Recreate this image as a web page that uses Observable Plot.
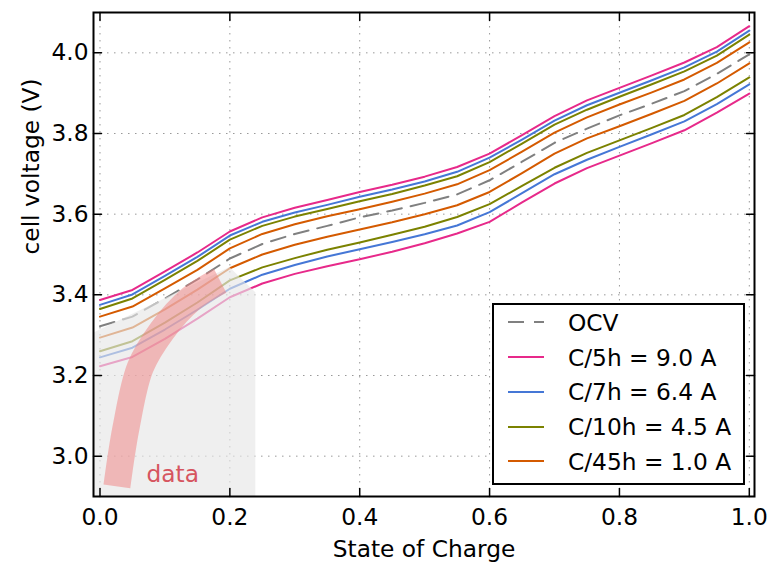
<!DOCTYPE html>
<html><head><meta charset="utf-8">
<script src="https://cdn.jsdelivr.net/npm/d3@7"></script>
<script src="https://cdn.jsdelivr.net/npm/@observablehq/plot@0.6"></script>
<style>
body{margin:0;background:#fff;font-family:"DejaVu Sans",sans-serif;}
#wrap{position:relative;width:771px;height:566px;}
#legend{position:absolute;left:492px;top:303px;width:253px;height:182px;box-sizing:border-box;border:2px solid #000;background:#fff;font-size:23.3px;color:#000;}
.row{position:absolute;left:0;height:34.75px;display:flex;align-items:center;white-space:nowrap;}
.row svg{margin-left:14px;margin-right:24px;}
</style></head>
<body><div id="wrap"><div id="chart"></div><div id="legend"></div></div>
<script>
const soc = [0,0.05,0.1,0.15,0.2,0.25,0.3,0.35,0.4,0.45,0.5,0.55,0.6,0.65,0.7,0.75,0.8,0.85,0.9,0.95,1.0];
const ocv   = [3.322,3.346,3.391,3.438,3.490,3.526,3.551,3.571,3.592,3.609,3.628,3.649,3.684,3.730,3.777,3.812,3.845,3.874,3.905,3.948,3.996];
const c5Up  = [3.387,3.412,3.458,3.505,3.557,3.592,3.616,3.635,3.655,3.673,3.693,3.717,3.750,3.796,3.843,3.882,3.913,3.944,3.976,4.014,4.066];
const c7Up  = [3.375,3.401,3.447,3.494,3.547,3.581,3.604,3.623,3.643,3.661,3.681,3.705,3.740,3.785,3.832,3.870,3.901,3.932,3.964,4.003,4.055];
const c10Up = [3.365,3.391,3.437,3.484,3.537,3.571,3.594,3.613,3.632,3.650,3.671,3.694,3.729,3.775,3.822,3.859,3.891,3.922,3.954,3.993,4.045];
const c45Up = [3.346,3.371,3.416,3.462,3.515,3.551,3.575,3.595,3.612,3.631,3.651,3.674,3.709,3.755,3.802,3.840,3.872,3.902,3.934,3.975,4.026];
const c45Dn = [3.294,3.319,3.364,3.413,3.466,3.500,3.524,3.544,3.562,3.580,3.600,3.622,3.655,3.702,3.750,3.788,3.818,3.849,3.881,3.924,3.974];
const c10Dn = [3.260,3.285,3.331,3.381,3.436,3.468,3.491,3.512,3.530,3.549,3.569,3.593,3.625,3.670,3.715,3.752,3.783,3.814,3.846,3.890,3.939];
const c7Dn  = [3.245,3.269,3.314,3.363,3.415,3.450,3.474,3.495,3.513,3.531,3.550,3.572,3.605,3.652,3.699,3.735,3.767,3.798,3.830,3.873,3.922];
const c5Dn  = [3.223,3.246,3.291,3.341,3.394,3.428,3.452,3.471,3.488,3.507,3.528,3.552,3.581,3.629,3.676,3.714,3.745,3.776,3.808,3.852,3.899];

const legendNames = ["OCV","C/5h = 9.0 A","C/7h = 6.4 A","C/10h = 4.5 A","C/45h = 1.0 A"];
const legendColors = ["#808080","#e7298a","#4577d6","#7b8200","#d45a00"];

// shaded "data" region and band
const shadeX = [-0.01,0.2,0.24,0.24];
const shadeTop = [3.305,3.468,3.405,2.9];
const bandX = [0.026,0.04,0.062,0.095,0.14,0.185];
const bandV = [2.925,3.07,3.22,3.31,3.39,3.435];
const dataLabel = {x:0.112, y:2.955, text:"data"};

const xTicks = [0,0.2,0.4,0.6,0.8,1.0];
const yTicks = [3.0,3.2,3.4,3.6,3.8,4.0];

const curves = [
  {v:c45Dn, c:4},{v:c10Dn, c:3},{v:c7Dn, c:2},{v:c5Dn, c:1},
  {v:c45Up, c:4},{v:c10Up, c:3},{v:c7Up, c:2},{v:c5Up, c:1}
];
const rows = [];
curves.forEach((cv,k)=>cv.v.forEach((v,i)=>rows.push({soc:soc[i], v, k, color:legendColors[cv.c]})));
const ocvRows = soc.map((s,i)=>({soc:s, v:ocv[i]}));
const shadeRows = shadeX.map((x,i)=>({x, top:shadeTop[i]}));
const bandRows = bandX.map((x,i)=>({x, v:bandV[i]}));

const tickShape = {draw(ctx, l){ ctx.moveTo(0,0); ctx.lineTo(0,-l); }};
const tk = {length:8, anchor:"start", shape:tickShape, stroke:"black", strokeWidth:1.5};
const FS = 23.3;

const chart = Plot.plot({
  width: 771, height: 566,
  marginLeft: 93, marginRight: 17, marginTop: 12, marginBottom: 70,
  style: {fontFamily: "DejaVu Sans", background: "white", color: "black"},
  x: {domain: [-0.01, 1.008]},
  y: {domain: [2.9, 4.1]},
  marks: [
    Plot.ruleX(xTicks, {x: d=>d, stroke:"#999", strokeWidth:1, strokeDasharray:"1.5,5.5"}),
    Plot.ruleY(yTicks, {y: d=>d, stroke:"#999", strokeWidth:1, strokeDasharray:"1.5,5.5"}),
    Plot.line(ocvRows, {x:"soc", y:"v", stroke:legendColors[0], strokeWidth:2, strokeDasharray:"15,9"}),
    Plot.line(rows, {x:"soc", y:"v", z:"k", stroke:"color", strokeWidth:2}),
    Plot.areaY(shadeRows, {x:"x", y1:2.9, y2:"top", fill:"#e6e6e6", fillOpacity:0.65, curve:"linear"}),
    Plot.line(bandRows, {x:"x", y:"v", stroke:"#f08080", strokeOpacity:0.5, strokeWidth:27, curve:"catmull-rom", strokeLinecap:"butt"}),
    Plot.text([dataLabel], {x:"x", y:"y", text:"text", fill:"#d6555f", fontSize:FS}),
    Plot.frame({stroke:"black", strokeWidth:2}),
    Plot.vector(xTicks, {x:d=>d, frameAnchor:"bottom", rotate:0, ...tk}),
    Plot.vector(xTicks, {x:d=>d, frameAnchor:"top", rotate:180, ...tk}),
    Plot.vector(yTicks, {y:d=>d, frameAnchor:"left", rotate:90, ...tk}),
    Plot.vector(yTicks, {y:d=>d, frameAnchor:"right", rotate:-90, ...tk}),
    Plot.axisX(xTicks, {tickSize:0, tickPadding:12, tickFormat:d=>d.toFixed(1), fontSize:FS, fill:"black", label:null}),
    Plot.axisY(yTicks, {tickSize:0, tickPadding:5, tickFormat:d=>d.toFixed(1), fontSize:FS, fill:"black", label:null}),
    Plot.text(["State of Charge"], {frameAnchor:"bottom", dy:60, text:d=>d, fontSize:FS, fill:"black"}),
    Plot.text(["cell voltage (V)"], {frameAnchor:"left", dx:-62, rotate:-90, text:d=>d, fontSize:FS, fill:"black"})
  ]
});
document.getElementById("chart").appendChild(chart);

const leg = document.getElementById("legend");
legendNames.forEach((name,i)=>{
  const r = document.createElement("div");
  r.className = "row";
  r.style.top = (i*34.75) + "px";
  const dash = i===0 ? ' stroke-dasharray="16,10"' : '';
  r.innerHTML = `<svg width="36" height="10"><line x1="0" y1="5" x2="36" y2="5" stroke="${legendColors[i]}" stroke-width="2"${dash}/></svg><span>${name}</span>`;
  leg.appendChild(r);
});
</script></body></html>
